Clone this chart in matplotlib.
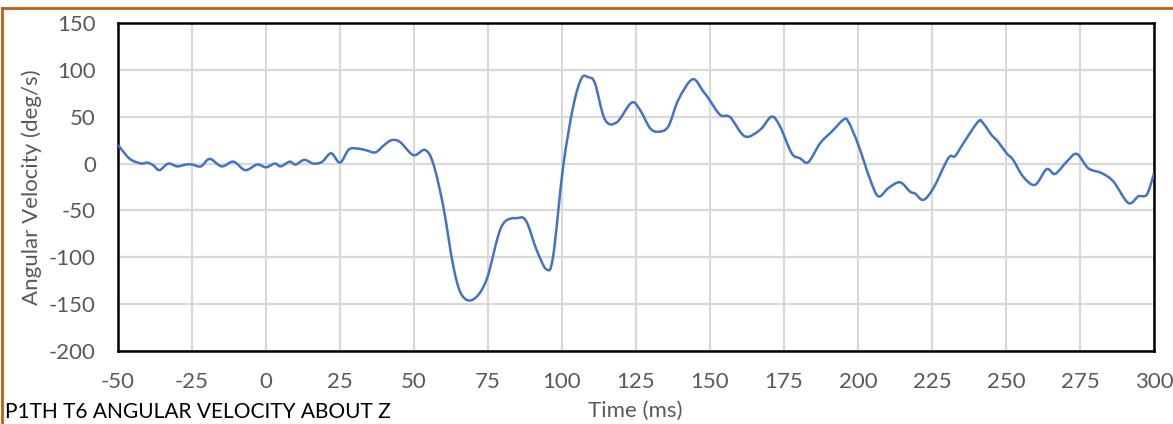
import numpy as np
import matplotlib.pyplot as plt
from matplotlib.lines import Line2D
from matplotlib.path import Path
from matplotlib.patches import PathPatch

# time (ms) and angular velocity (deg/s)
time_ms = [-50, -47, -45, -42, -40, -38, -36, -33, -30, -27, -25, -22, -19, -15, -11, -7,
           -3, 0, 3, 5, 8, 10, 13, 16, 19, 22, 25, 28, 31, 34, 37, 40, 42.5, 45.3, 49.8,
           53.7, 56.5, 59.9, 63.3, 66.1, 70, 74.5, 79.6, 85.2, 88, 91.4, 94.8, 97, 100.4,
           103.8, 106.6, 108.9, 111.1, 114.5, 118.5, 123.5, 126.4, 129.7, 132.5, 135.9,
           139.3, 144.1, 147.7, 149.4, 153.4, 156.8, 161.8, 166.9, 170.8, 173.6, 177.6,
           180.4, 183.2, 187.2, 191.1, 195, 196.7, 200.1, 204.1, 206.9, 210.3, 214.2,
           217.6, 219.3, 222.1, 225.5, 230.5, 232.8, 235.6, 240.6, 242.3, 245.1, 247.3,
           250.2, 252.4, 255.8, 259.8, 263.7, 266.6, 270.5, 273.9, 277.8, 282.3, 286.3,
           291.3, 294.7, 297.5, 299.5, 300]
ang_vel = [20, 8, 3, 0, 1, -2, -7, 0, -3, -1, -1, -3, 5, -3, 2, -7,
           -1, -4, 0, -3, 2, -1, 4, 0, 2, 11, 1, 15, 16, 14, 12, 20, 25, 23, 9,
           14.5, 0, -46, -110, -140, -145, -124, -67, -58, -62, -92, -113, -99, -3,
           61, 91, 92, 86, 47, 44, 65, 57, 38, 34, 39.5,
           68, 90, 77, 70, 52, 49.5, 29, 36, 50, 40, 11,
           5.7, 1.5, 21.7, 34, 46.6, 45, 20, -17, -35, -26, -20,
           -30, -32, -38.7, -26, 5.7, 8, 21.7, 44.8, 43, 30.6, 23.4,
           11, 4, -14, -22.7, -6, -11, 2, 10.3, -5, -10.2, -19.2,
           -42, -35, -33.4, -16, -10]

x_ticks = np.arange(-50, 301, 25)
y_ticks = np.arange(-200, 151, 50)


def smooth_path(xs, ys):
    # Excel-like smoothed line: cubic Bezier segments through the data points
    p = np.column_stack([xs, ys]).astype(float)
    n = len(p)
    verts = [p[0]]
    codes = [Path.MOVETO]
    for i in range(n - 1):
        p0 = p[max(i - 1, 0)]
        p1 = p[i]
        p2 = p[i + 1]
        p3 = p[min(i + 2, n - 1)]
        verts += [p1 + (p2 - p0) / 6, p2 - (p3 - p1) / 6, p2]
        codes += [Path.CURVE4] * 3
    return Path(verts, codes)


plt.rcParams['font.family'] = ['Lato', 'DejaVu Sans']
plt.rcParams['axes.unicode_minus'] = False

fig = plt.figure(figsize=(11.73, 4.24), dpi=100)
ax = fig.add_axes([118 / 1173, 1 - 351 / 424, (1154 - 118) / 1173, (351 - 23) / 424])

ax.add_patch(PathPatch(smooth_path(time_ms, ang_vel), facecolor='none',
                       edgecolor='#4472C4', lw=1.8, zorder=3))

ax.set_xlim(-50, 300)
ax.set_ylim(-200, 150)
ax.set_xticks(x_ticks)
ax.set_yticks(y_ticks)
ax.grid(True, color='#d9d9d9', lw=1.6)
ax.set_axisbelow(True)
for s in ax.spines.values():
    s.set_color('black')
    s.set_linewidth(1.8)
ax.tick_params(length=0, labelsize=16, colors='#595959', pad=16)
ax.tick_params(axis='x', pad=15)

fig.text(32 / 1173, 1 - 187 / 424, 'Angular Velocity (deg/s)', rotation=90,
         ha='center', va='center', fontsize=16, color='#595959')
fig.text(635 / 1173, 1 - 411 / 424, 'Time (ms)', ha='center', va='center',
         fontsize=16, color='#595959')
fig.text(5 / 1173, 1 - 412 / 424, 'P1TH T6 ANGULAR VELOCITY ABOUT Z', ha='left',
         va='center', fontsize=15, color='black')

# orange chart-area border (top and left only visible)
fig.add_artist(Line2D([2 / 1173, 1], [1 - 8 / 424, 1 - 8 / 424], color='#C55A11', lw=2,
                      transform=fig.transFigure))
fig.add_artist(Line2D([2 / 1173, 2 / 1173], [0, 1 - 8 / 424], color='#C55A11', lw=2,
                      transform=fig.transFigure))

fig.savefig('out.png', dpi=100)
